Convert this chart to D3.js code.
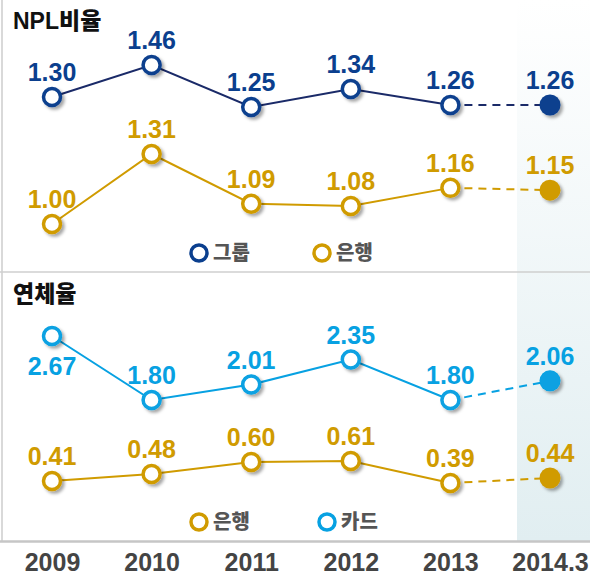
<!DOCTYPE html>
<html>
<head>
<meta charset="utf-8">
<script src="https://cdn.jsdelivr.net/npm/d3@7"></script>
<style>
  body { margin: 0; background: #fff; }
  svg text { font-family: "Liberation Sans", Arial, "Noto Sans CJK KR", sans-serif; font-weight: bold; }
  svg text.kr { font-family: "Liberation Sans", Arial, "Noto Sans CJK KR", sans-serif; font-weight: 900; }
</style>
</head>
<body>
<div id="chart-area"></div>
<script>
// Data
const years = ["2009", "2010", "2011", "2012", "2013", "2014.3"]
const nplGroup = [1.30, 1.46, 1.25, 1.34, 1.26, 1.26]
const nplBank = [1.00, 1.31, 1.09, 1.08, 1.16, 1.15]
const delinqCard = [2.67, 1.80, 2.01, 2.35, 1.80, 2.06]
const delinqBank = [0.41, 0.48, 0.60, 0.61, 0.39, 0.44]

const WIDTH = 590
const HEIGHT = 574
const NAVY = "#0b3f8e"
const NAVY_LINE = "#1a2a68"
const GOLD = "#d09b00"
const SKY = "#07a1e2"

const svg = d3.select("#chart-area").append("svg")
  .attr("width", WIDTH)
  .attr("height", HEIGHT)

const defs = svg.append("defs")
const shadow = defs.append("filter").attr("id", "shadow")
  .attr("x", "-50%").attr("y", "-50%").attr("width", "200%").attr("height", "200%")
shadow.append("feDropShadow")
  .attr("dx", 2.5).attr("dy", 2.5).attr("stdDeviation", 1.6)
  .attr("flood-color", "#000").attr("flood-opacity", 0.35)

const grad = defs.append("linearGradient").attr("id", "shade")
  .attr("x1", 0).attr("y1", 0).attr("x2", 0).attr("y2", 1)
grad.append("stop").attr("offset", "0%").attr("stop-color", "#ffffff")
grad.append("stop").attr("offset", "100%").attr("stop-color", "#e1eef1")

// X scale
const x = d3.scalePoint()
  .domain(years)
  .range([52, 550])

// shaded forecast column
svg.append("rect")
  .attr("x", x("2014.3") - 33)
  .attr("y", 0)
  .attr("width", WIDTH - (x("2014.3") - 33))
  .attr("height", 541)
  .attr("fill", "url(#shade)")

// frame lines
svg.append("line").attr("x1", 2).attr("x2", 2).attr("y1", 0).attr("y2", 541)
  .attr("stroke", "#d9d9d9").attr("stroke-width", 2)
svg.append("line").attr("x1", 0).attr("x2", WIDTH).attr("y1", 272).attr("y2", 272)
  .attr("stroke", "#cfcfcf").attr("stroke-width", 1.5)
svg.append("line").attr("x1", 0).attr("x2", WIDTH).attr("y1", 541.5).attr("y2", 541.5)
  .attr("stroke", "#c6c6c6").attr("stroke-width", 2.5)

// panel titles
svg.append("text").attr("class", "kr").attr("x", 13).attr("y", 29)
  .attr("font-size", "23px").attr("fill", "#111").text("NPL비율")
svg.append("text").attr("class", "kr").attr("x", 13).attr("y", 302)
  .attr("font-size", "23px").attr("fill", "#111").text("연체율")

// series
const series = [
  { values: nplGroup, color: NAVY, line: NAVY_LINE, y: d3.scaleLinear().domain([1.25, 1.46]).range([107, 65]), below: [] },
  { values: nplBank, color: GOLD, line: GOLD, y: d3.scaleLinear().domain([1.00, 1.31]).range([224, 154]), below: [] },
  { values: delinqCard, color: SKY, line: SKY, y: d3.scaleLinear().domain([1.80, 2.67]).range([400, 336]), below: [0] },
  { values: delinqBank, color: GOLD, line: GOLD, y: d3.scaleLinear().domain([0.41, 0.60]).range([481, 462]), below: [] }
]

series.forEach(s => {
  const pts = s.values.map((v, i) => ({ year: years[i], v, i }))
  const line = d3.line().x(d => x(d.year)).y(d => s.y(d.v))
  const n = pts.length

  svg.append("path")
    .datum(pts.slice(0, n - 1))
    .attr("d", line)
    .attr("fill", "none")
    .attr("stroke", s.line)
    .attr("stroke-width", 2)

  svg.append("path")
    .datum(pts.slice(n - 2))
    .attr("d", line)
    .attr("fill", "none")
    .attr("stroke", s.line)
    .attr("stroke-width", 2)
    .attr("stroke-dasharray", "8,6")

  svg.selectAll(null)
    .data(pts)
    .enter().append("circle")
    .attr("cx", d => x(d.year))
    .attr("cy", d => s.y(d.v))
    .attr("r", d => d.i === n - 1 ? 10.5 : 8.5)
    .attr("fill", d => d.i === n - 1 ? s.color : "#fff")
    .attr("stroke", s.color)
    .attr("stroke-width", d => d.i === n - 1 ? 0 : 3.5)
    .attr("filter", "url(#shadow)")

  svg.selectAll(null)
    .data(pts)
    .enter().append("text")
    .attr("x", d => x(d.year))
    .attr("y", d => s.below.includes(d.i) ? s.y(d.v) + 39 : s.y(d.v) - 16)
    .attr("text-anchor", "middle")
    .attr("font-size", "25px")
    .attr("fill", s.color)
    .text(d => d3.format(".2f")(d.v))
})

// legends
const legends = [
  { label: "그룹", color: NAVY, cx: 199, cy: 253 },
  { label: "은행", color: GOLD, cx: 322, cy: 253 },
  { label: "은행", color: GOLD, cx: 199, cy: 522 },
  { label: "카드", color: SKY, cx: 327, cy: 522 }
]
const lg = svg.selectAll(".legend").data(legends).enter().append("g").attr("class", "legend")
lg.append("circle")
  .attr("cx", d => d.cx).attr("cy", d => d.cy).attr("r", 8)
  .attr("fill", "#fff").attr("stroke", d => d.color).attr("stroke-width", 3.5)
lg.append("text")
  .attr("class", "kr")
  .attr("x", d => d.cx + 14).attr("y", d => d.cy + 7)
  .attr("font-size", "20px").attr("fill", "#555")
  .text(d => d.label)

// X axis
const xAxis = svg.append("g")
  .attr("transform", "translate(0, 548)")
  .call(d3.axisBottom(x).tickSize(0).tickPadding(0))
xAxis.select(".domain").remove()
xAxis.selectAll("text")
  .attr("dy", "0.9em")
  .attr("font-size", "25px")
  .attr("fill", "#444")
  .attr("font-family", null)
</script>
</body>
</html>
